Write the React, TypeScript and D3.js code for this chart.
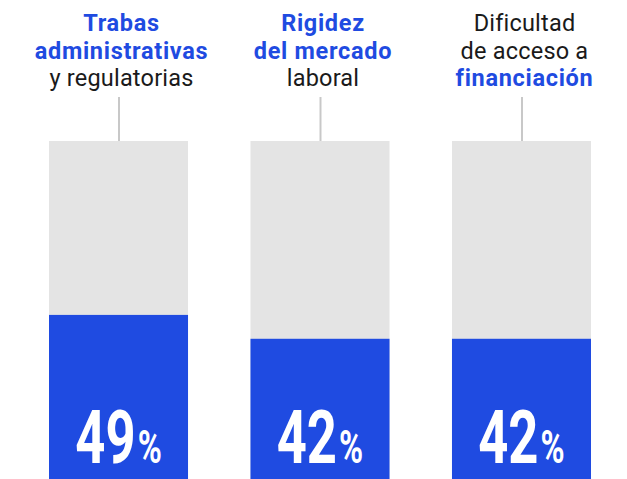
import * as d3 from "d3"

// datos
const categories = ["trabas", "rigidez", "financiacion"]
const values = [49, 42, 42]
const labelLines = [
  [{ t: "Trabas", b: true }, { t: "administrativas", b: true }, { t: "y regulatorias", b: false }],
  [{ t: "Rigidez", b: true }, { t: "del mercado", b: true }, { t: "laboral", b: false }],
  [{ t: "Dificultad", b: false }, { t: "de acceso a", b: false }, { t: "financiación", b: true }],
]

const W = 627
const H = 479
const BLUE = "#1f4be1"
const GRAY = "#e4e4e4"

export default function App() {
  const x = d3.scaleBand<string>().domain(categories).range([49, 591]).paddingInner(0.31)
  const y = d3.scaleLinear().domain([0, 100]).range([482, 141])
  const bw = x.bandwidth()

  return (
    <svg width={W} height={H} style={{ position: "absolute", left: 0, top: 0, overflow: "hidden" }}
      fontFamily="Roboto, 'Liberation Sans', sans-serif">
      {categories.map((c, i) => {
        const x0 = x(c) as number
        const cx = x0 + bw / 2
        const v = values[i]
        return (
          <g key={c}>
            {labelLines[i].map((l, j) => (
              <text key={j} x={cx + 3} y={31 + j * 27.5} textAnchor="middle" fontSize={23.5}
                letterSpacing={l.b ? 0.7 : 0.2}
                fontWeight={l.b ? 700 : 400} fill={l.b ? BLUE : "#1a1a1a"}>{l.t}</text>
            ))}
            <line x1={cx + 0.5} x2={cx + 0.5} y1={97} y2={y(100)} stroke="#c8c8c8" strokeWidth={2} />
            <rect x={x0} y={y(100)} width={bw} height={y(0) - y(100)} fill={GRAY} />
            <rect x={x0} y={y(v)} width={bw} height={y(0) - y(v)} fill={BLUE} />
            {/* cifra estrecha: se comprime en horizontal */}
            <g transform={`translate(${cx},463) scale(0.71,1)`}>
              <text textAnchor="middle" fontWeight={700} fill="#fff">
                <tspan fontSize={74}>{v}</tspan>
                <tspan fontSize={46} dx={3}>%</tspan>
              </text>
            </g>
          </g>
        )
      })}
    </svg>
  )
}
